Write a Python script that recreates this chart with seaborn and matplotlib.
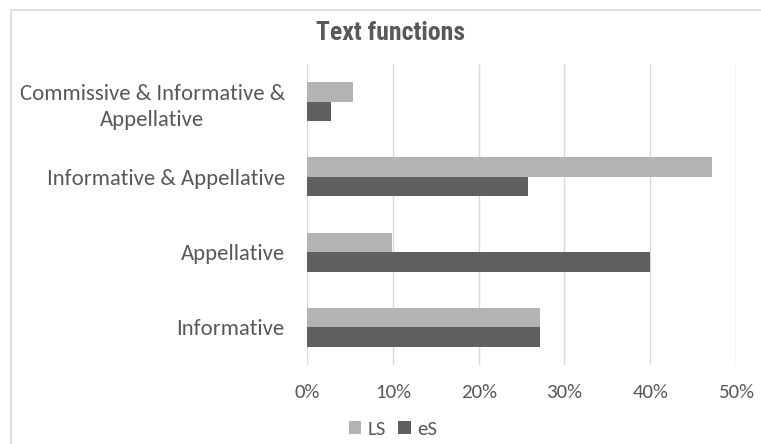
import matplotlib
matplotlib.use("Agg")
import matplotlib.pyplot as plt
from matplotlib.patches import Rectangle
from matplotlib.ticker import PercentFormatter
import seaborn as sns
import pandas as pd

categories = [
    "Commissive & Informative &\nAppellative",
    "Informative & Appellative",
    "Appellative",
    "Informative",
]
series = ["LS", "eS"]
ls_values = [0.0536, 0.4725, 0.0995, 0.272]
es_values = [0.028, 0.257, 0.400, 0.271]
x_ticks = [0.0, 0.1, 0.2, 0.3, 0.4, 0.5]

df = pd.DataFrame({
    "category": categories * 2,
    "series": [series[0]] * len(categories) + [series[1]] * len(categories),
    "value": ls_values + es_values,
})

sns.set_theme(style="white")
plt.rcParams["font.family"] = ["Carlito", "DejaVu Sans"]

text_color = "#595959"
palette = {"LS": "#b3b3b3", "eS": "#5f5f5f"}

fig = plt.figure(figsize=(7.61, 4.44), dpi=100)
ax = fig.add_axes([307 / 761, (444 - 365) / 444, (736 - 307) / 761, (365 - 64) / 444])

sns.barplot(
    data=df, y="category", x="value", hue="series", order=categories,
    hue_order=series, palette=palette, orient="h", width=0.52,
    saturation=1, linewidth=0, ax=ax,
)

ax.set_xlim(0, 0.5)
ax.set_xticks(x_ticks)
ax.xaxis.set_major_formatter(PercentFormatter(1.0, decimals=0))
ax.grid(axis="x", color="#d9d9d9", linewidth=1)
ax.set_axisbelow(True)
for s in ax.spines.values():
    s.set_visible(False)
ax.set_xlabel("")
ax.set_ylabel("")
ax.tick_params(axis="both", length=0, colors=text_color)
ax.tick_params(axis="y", pad=16, labelsize=16.4)
ax.tick_params(axis="x", pad=14, labelsize=15)
for lbl in ax.get_yticklabels():
    lbl.set_multialignment("center")
    lbl.set_linespacing(1.4)

fig.text(390 / 761, 1 - 33 / 444, "Text functions", ha="center", va="center",
         fontsize=18.5, fontweight="bold", color=text_color,
         family=["Roboto Condensed", "DejaVu Sans"])

handles, labels = ax.get_legend_handles_labels()
ax.legend_.remove()
fig.legend(handles, labels, loc="center", bbox_to_anchor=(393 / 761, 1 - 429 / 444),
           ncol=2, frameon=False, fontsize=15, handlelength=0.6, handleheight=0.6,
           handletextpad=0.3, columnspacing=0.6, labelcolor=text_color)

# chart frame
fig.patches.append(Rectangle((11 / 761, -0.1), 1.2, 1 - 10 / 444 + 0.1,
                             transform=fig.transFigure, fill=False,
                             edgecolor="#d9d9d9", linewidth=1.2))

fig.savefig("out.png", dpi=100)
